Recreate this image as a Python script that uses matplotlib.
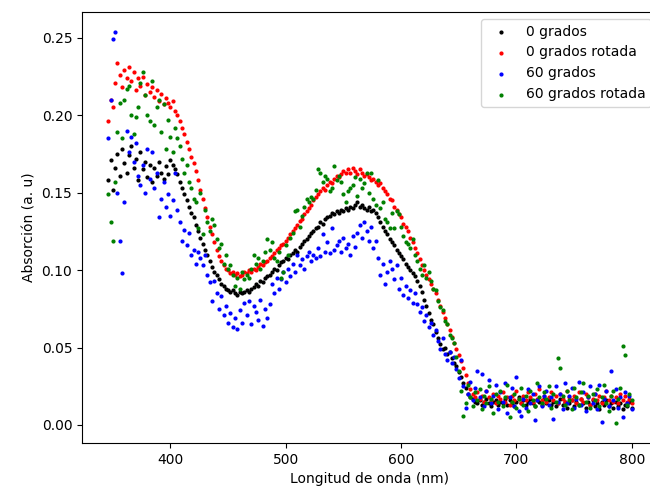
import numpy as np
import matplotlib.pyplot as plt

# Wavelength grid (nm) and absorption values, 2 nm step
wavelength = np.arange(346, 801, 2)

abs_0 = [
    0.158, 0.171, 0.152, 0.166, 0.175, 0.161, 0.178, 0.169, 0.163, 0.174,
    0.180, 0.166, 0.172, 0.158, 0.176, 0.165, 0.170, 0.160, 0.168, 0.157,
    0.166, 0.161, 0.170, 0.163, 0.159, 0.167, 0.162, 0.171, 0.168, 0.165,
    0.162, 0.157, 0.153, 0.149, 0.145, 0.141, 0.137, 0.134, 0.129, 0.125,
    0.121, 0.117, 0.113, 0.110, 0.106, 0.102, 0.099, 0.097, 0.094, 0.091,
    0.090, 0.088, 0.087, 0.086, 0.087, 0.085, 0.084, 0.086, 0.085, 0.086,
    0.087, 0.086, 0.088, 0.089, 0.091, 0.090, 0.093, 0.092, 0.095, 0.096,
    0.097, 0.099, 0.101, 0.100, 0.103, 0.105, 0.106, 0.108, 0.107, 0.110,
    0.111, 0.113, 0.112, 0.115, 0.117, 0.119, 0.120, 0.122, 0.124, 0.125,
    0.127, 0.128, 0.131, 0.130, 0.133, 0.134, 0.135, 0.137, 0.136, 0.138,
    0.137, 0.139, 0.138, 0.140, 0.139, 0.141, 0.140, 0.142, 0.144, 0.141,
    0.142, 0.140, 0.139, 0.141, 0.138, 0.139, 0.137, 0.134, 0.131, 0.128,
    0.125, 0.123, 0.120, 0.118, 0.116, 0.113, 0.111, 0.109, 0.107, 0.104,
    0.102, 0.100, 0.098, 0.096, 0.093, 0.090, 0.086, 0.081, 0.077, 0.072,
    0.068, 0.065, 0.060, 0.056, 0.052, 0.049, 0.050, 0.046, 0.047, 0.043,
    0.040, 0.038, 0.034, 0.031, 0.027, 0.024, 0.020, 0.018, 0.017, 0.015,
    0.014, 0.016, 0.013, 0.015, 0.017, 0.014, 0.012, 0.015, 0.016, 0.013,
    0.015, 0.014, 0.017, 0.013, 0.016, 0.014, 0.012, 0.015, 0.018, 0.014,
    0.016, 0.013, 0.015, 0.017, 0.014, 0.012, 0.016, 0.015, 0.013, 0.017,
    0.014, 0.016, 0.013, 0.015, 0.012, 0.014, 0.017, 0.013, 0.015, 0.011,
    0.014, 0.016, 0.012, 0.015, 0.013, 0.017, 0.014, 0.011, 0.015, 0.013,
    0.016, 0.012, 0.014, 0.010, 0.015, 0.013, 0.016, 0.012, 0.014, 0.011,
    0.015, 0.012, 0.014, 0.010, 0.013, 0.012, 0.015, 0.011,
]

abs_0_rot = [
    0.196, 0.210, 0.205, 0.221, 0.234, 0.226, 0.218, 0.229, 0.224, 0.231,
    0.222, 0.228, 0.216, 0.224, 0.219, 0.225, 0.213, 0.220, 0.215, 0.218,
    0.212, 0.216, 0.209, 0.214, 0.207, 0.211, 0.208, 0.205, 0.209, 0.203,
    0.200, 0.196, 0.192, 0.188, 0.183, 0.178, 0.173, 0.169, 0.164, 0.158,
    0.152, 0.146, 0.140, 0.134, 0.128, 0.123, 0.118, 0.113, 0.109, 0.106,
    0.103, 0.101, 0.100, 0.098, 0.099, 0.097, 0.098, 0.096, 0.097, 0.099,
    0.098, 0.100, 0.099, 0.101, 0.100, 0.102, 0.104, 0.103, 0.105, 0.106,
    0.108, 0.109, 0.111, 0.113, 0.114, 0.116, 0.117, 0.119, 0.121, 0.123,
    0.125, 0.127, 0.129, 0.132, 0.133, 0.136, 0.138, 0.140, 0.142, 0.145,
    0.147, 0.149, 0.151, 0.153, 0.152, 0.155, 0.157, 0.156, 0.159, 0.161,
    0.160, 0.162, 0.164, 0.163, 0.165, 0.163, 0.166, 0.164, 0.162, 0.165,
    0.163, 0.161, 0.162, 0.160, 0.158, 0.159, 0.157, 0.155, 0.156, 0.153,
    0.151, 0.149, 0.146, 0.145, 0.141, 0.139, 0.136, 0.134, 0.130, 0.128,
    0.125, 0.121, 0.118, 0.114, 0.111, 0.107, 0.103, 0.100, 0.097, 0.094,
    0.091, 0.088, 0.085, 0.081, 0.077, 0.073, 0.069, 0.065, 0.061, 0.057,
    0.053, 0.049, 0.045, 0.041, 0.037, 0.032, 0.027, 0.023, 0.020, 0.018,
    0.021, 0.017, 0.019, 0.015, 0.022, 0.018, 0.016, 0.020, 0.014, 0.019,
    0.017, 0.021, 0.015, 0.018, 0.013, 0.019, 0.016, 0.022, 0.017, 0.014,
    0.019, 0.016, 0.021, 0.018, 0.015, 0.020, 0.017, 0.023, 0.016, 0.019,
    0.015, 0.018, 0.021, 0.016, 0.019, 0.014, 0.020, 0.017, 0.015, 0.022,
    0.018, 0.016, 0.019, 0.014, 0.021, 0.017, 0.015, 0.020, 0.018, 0.013,
    0.017, 0.020, 0.016, 0.019, 0.014, 0.018, 0.022, 0.016, 0.019, 0.015,
    0.018, 0.014, 0.020, 0.016, 0.019, 0.015, 0.017, 0.014,
]

abs_60 = [
    0.185, 0.210, 0.249, 0.254, 0.150, 0.119, 0.098, 0.144, 0.190, 0.176,
    0.186, 0.170, 0.182, 0.161, 0.155, 0.168, 0.150, 0.178, 0.159, 0.176,
    0.153, 0.163, 0.134, 0.146, 0.157, 0.141, 0.149, 0.135, 0.145, 0.163,
    0.139, 0.131, 0.119, 0.126, 0.116, 0.124, 0.110, 0.113, 0.104, 0.112,
    0.108, 0.103, 0.110, 0.097, 0.092, 0.080, 0.093, 0.085, 0.075, 0.083,
    0.071, 0.077, 0.066, 0.072, 0.063, 0.069, 0.062, 0.074, 0.066, 0.079,
    0.071, 0.080, 0.065, 0.077, 0.073, 0.068, 0.081, 0.064, 0.075, 0.069,
    0.078, 0.091, 0.085, 0.095, 0.088, 0.094, 0.099, 0.092, 0.101, 0.096,
    0.104, 0.099, 0.110, 0.103, 0.107, 0.101, 0.109, 0.112, 0.106, 0.110,
    0.108, 0.114, 0.109, 0.123, 0.112, 0.118, 0.111, 0.127, 0.113, 0.116,
    0.119, 0.112, 0.121, 0.114, 0.117, 0.110, 0.122, 0.115, 0.124, 0.129,
    0.121, 0.131, 0.125, 0.119, 0.128, 0.114, 0.119, 0.108, 0.097, 0.104,
    0.091, 0.099, 0.106, 0.101, 0.094, 0.103, 0.088, 0.095, 0.084, 0.090,
    0.082, 0.087, 0.079, 0.085, 0.078, 0.073, 0.076, 0.067, 0.071, 0.063,
    0.066, 0.058, 0.061, 0.054, 0.049, 0.056, 0.046, 0.042, 0.047, 0.040,
    0.044, 0.036, 0.030, 0.042, 0.025, 0.011, 0.020, 0.028, 0.016, 0.024,
    0.035, 0.018, 0.033, 0.012, 0.022, 0.029, 0.014, 0.019, 0.026, 0.010,
    0.021, 0.015, 0.027, 0.008, 0.018, 0.024, 0.012, 0.031, 0.009, 0.006,
    0.017, 0.011, 0.023, 0.014, 0.020, 0.003, 0.016, 0.025, 0.012, 0.019,
    0.022, 0.013, 0.018, 0.004, 0.025, 0.015, 0.020, 0.010, 0.027, 0.014,
    0.019, 0.024, 0.011, 0.017, 0.028, 0.013, 0.021, 0.009, 0.018, 0.025,
    0.014, 0.020, 0.010, 0.026, 0.002, 0.017, 0.022, 0.012, 0.035, 0.016,
    0.023, 0.011, 0.018, 0.005, 0.021, 0.014, 0.019, 0.010,
]

abs_60_rot = [
    0.149, 0.131, 0.119, 0.157, 0.189, 0.208, 0.185, 0.210, 0.217, 0.219,
    0.200, 0.188, 0.199, 0.205, 0.221, 0.228, 0.213, 0.200, 0.196, 0.222,
    0.194, 0.205, 0.210, 0.189, 0.207, 0.178, 0.197, 0.186, 0.176, 0.192,
    0.185, 0.180, 0.172, 0.163, 0.168, 0.157, 0.153, 0.146, 0.144, 0.127,
    0.150, 0.123, 0.139, 0.131, 0.125, 0.133, 0.129, 0.120, 0.114, 0.117,
    0.104, 0.110, 0.101, 0.103, 0.097, 0.090, 0.095, 0.088, 0.099, 0.094,
    0.097, 0.095, 0.101, 0.110, 0.104, 0.108, 0.101, 0.106, 0.112, 0.120,
    0.113, 0.118, 0.108, 0.106, 0.112, 0.095, 0.099, 0.116, 0.110, 0.121,
    0.124, 0.138, 0.139, 0.128, 0.135, 0.141, 0.146, 0.144, 0.147, 0.146,
    0.152, 0.165, 0.163, 0.157, 0.161, 0.159, 0.151, 0.153, 0.167, 0.158,
    0.161, 0.157, 0.149, 0.144, 0.151, 0.153, 0.155, 0.160, 0.148, 0.159,
    0.153, 0.156, 0.163, 0.150, 0.163, 0.146, 0.142, 0.158, 0.140, 0.144,
    0.133, 0.131, 0.127, 0.137, 0.127, 0.138, 0.136, 0.128, 0.122, 0.118,
    0.117, 0.114, 0.120, 0.110, 0.106, 0.101, 0.097, 0.103, 0.095, 0.099,
    0.093, 0.088, 0.087, 0.080, 0.076, 0.074, 0.067, 0.065, 0.058, 0.056,
    0.053, 0.044, 0.035, 0.022, 0.006, 0.014, 0.026, 0.018, 0.012, 0.021,
    0.016, 0.023, 0.010, 0.019, 0.014, 0.025, 0.017, 0.008, 0.020, 0.015,
    0.022, 0.012, 0.018, 0.026, 0.005, 0.015, 0.020, 0.011, 0.017, 0.024,
    0.013, 0.019, 0.009, 0.022, 0.016, 0.012, 0.027, 0.018, 0.014, 0.021,
    0.017, 0.025, 0.011, 0.020, 0.015, 0.043, 0.037, 0.019, 0.013, 0.022,
    0.016, 0.010, 0.024, 0.018, 0.013, 0.021, 0.027, 0.015, 0.019, 0.011,
    0.020, 0.016, 0.023, 0.012, 0.018, 0.026, 0.014, 0.009, 0.019, 0.022,
    0.001, 0.017, 0.024, 0.051, 0.045, 0.013, 0.020, 0.016,
]

series = [
    (abs_0, 'black', '0 grados'),
    (abs_0_rot, 'red', '0 grados rotada'),
    (abs_60, 'blue', '60 grados'),
    (abs_60_rot, 'green', '60 grados rotada'),
]

fig = plt.figure(figsize=(6.5, 4.92), dpi=100)
ax = fig.add_axes([0.1262, 0.0996, 0.886, 0.876])

for values, color, label in series:
    ax.scatter(wavelength, values, s=4, color=color, label=label)

ax.set_xlabel('Longitud de onda (nm)')
ax.set_ylabel('Absorción (a. u)')
ax.legend(loc='upper right')

plt.savefig('out.png', dpi=100)
